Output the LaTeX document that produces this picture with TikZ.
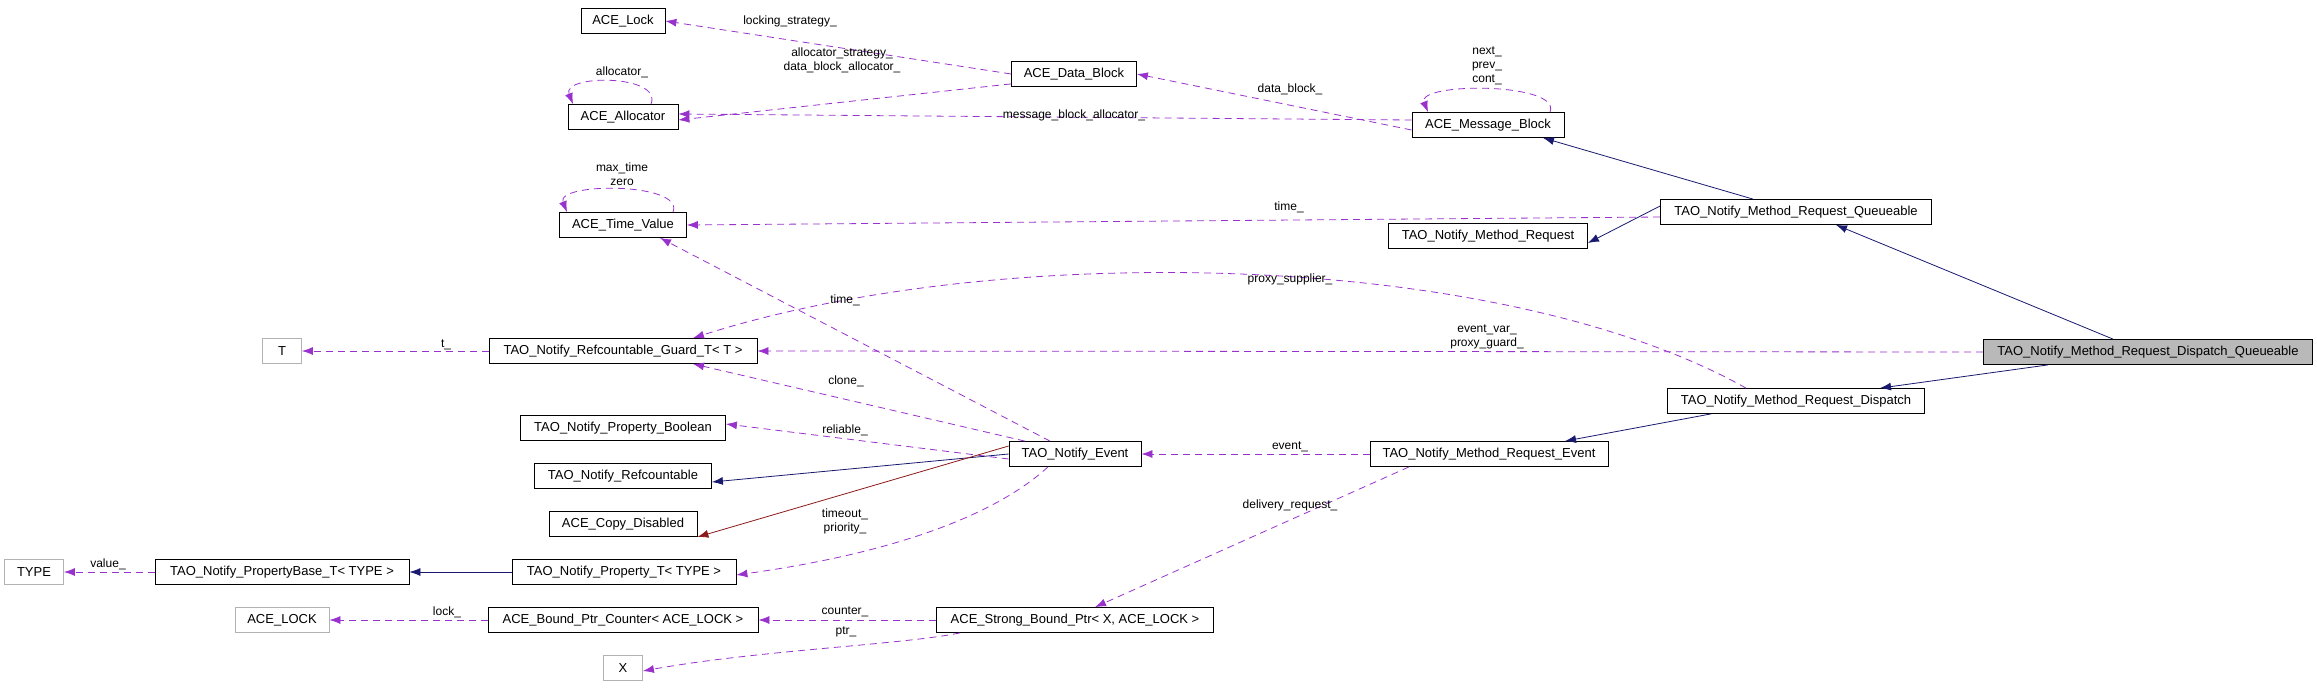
\documentclass[tikz,border=0pt]{standalone}
\usepackage{fontspec}
\setmainfont{Liberation Sans}
\usetikzlibrary{arrows.meta}
\begin{document}
\begin{tikzpicture}[x=1pt,y=-1pt,
  font=\fontsize{13}{15}\selectfont,
  cls/.style={draw=black,line width=0.8pt,inner sep=0pt,minimum height=25pt,fill=white},
  ext/.style={cls,draw=gray!60},
  usage/.style={draw={rgb,255:red,153;green,50;blue,204},line width=0.8pt,dash pattern=on 7pt off 5pt,-{Latex[length=11pt,width=8pt]}},
  inh/.style={draw={rgb,255:red,25;green,25;blue,112},line width=0.8pt,-{Latex[length=11pt,width=8pt]}},
  priv/.style={draw={rgb,255:red,139;green,26;blue,26},line width=0.8pt,-{Latex[length=11pt,width=8pt]}},
  lbl/.style={inner sep=0pt,align=center,font=\fontsize{12}{14}\selectfont}]
\useasboundingbox (0,0) rectangle (2317,696);
\fill[white] (0,0) rectangle (2317,696);
% nodes
\node[cls,minimum width=84pt] (lock) at (623,21) {ACE\_Lock};
\node[cls,minimum width=110pt] (alloc) at (623,117) {ACE\_Allocator};
\node[cls,minimum width=127pt] (tv) at (623,225) {ACE\_Time\_Value};
\node[ext,minimum width=39pt] (T) at (282,351) {T};
\node[cls,minimum width=268pt] (guard) at (623,351) {TAO\_Notify\_Refcountable\_Guard\_T< T >};
\node[cls,minimum width=205pt] (pb) at (623,428) {TAO\_Notify\_Property\_Boolean};
\node[cls,minimum width=177pt] (rc) at (623,476) {TAO\_Notify\_Refcountable};
\node[cls,minimum width=148pt] (cd) at (623,524) {ACE\_Copy\_Disabled};
\node[ext,minimum width=59pt] (TYPE) at (34,572) {TYPE};
\node[cls,minimum width=254pt] (pbase) at (282,572) {TAO\_Notify\_PropertyBase\_T< TYPE >};
\node[cls,minimum width=224pt] (pt) at (624,572) {TAO\_Notify\_Property\_T< TYPE >};
\node[ext,minimum width=94pt] (LOCK) at (282,620) {ACE\_LOCK};
\node[cls,minimum width=270pt] (bpc) at (623,620) {ACE\_Bound\_Ptr\_Counter< ACE\_LOCK >};
\node[ext,minimum width=39pt] (X) at (623,668) {X};
\node[cls,minimum width=125pt] (db) at (1074,74) {ACE\_Data\_Block};
\node[cls,minimum width=152pt] (mb) at (1488,125) {ACE\_Message\_Block};
\node[cls,minimum width=199pt] (mr) at (1488,236) {TAO\_Notify\_Method\_Request};
\node[cls,minimum width=132pt] (ev) at (1075,454) {TAO\_Notify\_Event};
\node[cls,minimum width=238pt] (mre) at (1489,454) {TAO\_Notify\_Method\_Request\_Event};
\node[cls,minimum width=277pt] (sbp) at (1075,620) {ACE\_Strong\_Bound\_Ptr< X, ACE\_LOCK >};
\node[cls,minimum width=271pt] (mrq) at (1796,212) {TAO\_Notify\_Method\_Request\_Queueable};
\node[cls,minimum width=329pt,fill=gray!55] (mrdq) at (2148,352) {TAO\_Notify\_Method\_Request\_Dispatch\_Queueable};
\node[cls,minimum width=257pt] (mrd) at (1796,401) {TAO\_Notify\_Method\_Request\_Dispatch};
% usage edges
\draw[usage] (db.west) -- (lock.east);
\draw[usage] ([yshift=3]db.south west) -- ([yshift=-3]alloc.east);
\draw[usage] ([yshift=5]mb.west) -- ([yshift=3]alloc.east);
\draw[usage] ([yshift=-5]mb.west) -- (db.east);
\draw[usage] ([xshift=62]mb.north) .. controls +(12,-30) and +(-12,-30) .. ([xshift=-60]mb.north);
\draw[usage] ([xshift=28]alloc.north) .. controls +(12,-30) and +(-12,-30) .. ([xshift=-50]alloc.north);
\draw[usage] ([xshift=50]tv.north) .. controls +(12,-30) and +(-12,-30) .. ([xshift=-56]tv.north);
\draw[usage] ([yshift=-5]mrq.west) -- (tv.east);
\draw[usage] ([xshift=-25]ev.north) -- ([xshift=37]tv.south);
\draw[usage] ([xshift=-50]mrd.north) .. controls (1500,250) and (1000,240) .. ([xshift=70]guard.north);
\draw[usage] (mrdq.west) -- (guard.east);
\draw[usage] (guard.west) -- (T.east);
\draw[usage] ([xshift=-50]ev.north) -- ([xshift=70]guard.south);
\draw[usage] ([yshift=-5]ev.west) -- ([yshift=4]pb.east);
\draw[usage] ([xshift=-27]ev.south) .. controls (990,520) and (880,555) .. ([yshift=-3]pt.east);
\draw[usage] (mre.west) -- (ev.east);
\draw[usage] ([xshift=-80]mre.south) -- ([xshift=20]sbp.north);
\draw[usage] (sbp.west) -- (bpc.east);
\draw[usage] ([xshift=-115]sbp.south) .. controls (900,645) and (760,650) .. ([yshift=-3]X.east);
\draw[usage] (bpc.west) -- (LOCK.east);
\draw[usage] (pbase.west) -- (TYPE.east);
% inheritance
\draw[inh] ([xshift=-43]mrq.north) -- ([xshift=55]mb.south);
\draw[inh] ([yshift=6]mrq.west) -- ([yshift=-7]mr.east);
\draw[inh] ([xshift=-35]mrdq.north) -- ([xshift=40]mrq.south);
\draw[inh] ([xshift=-100]mrdq.south) -- ([xshift=84]mrd.north);
\draw[inh] ([xshift=-85]mrd.south) -- ([xshift=76]mre.north);
\draw[inh] (ev.west) -- ([yshift=-6]rc.east);
\draw[priv] ([yshift=8]ev.west) -- ([yshift=-13]cd.east);
\draw[inh] (pt.west) -- (pbase.east);
% labels
\node[lbl] (l1) at (790,21) {locking\_strategy\_};
\node[lbl] (l2) at (842,60) {allocator\_strategy\_\\data\_block\_allocator\_};
\node[lbl] (l3) at (1074,115) {message\_block\_allocator\_};
\node[lbl] (l4) at (1290,89) {data\_block\_};
\node[lbl] (l5) at (1487,66) {next\_\\prev\_\\cont\_};
\node[lbl] (l6) at (622,72) {allocator\_};
\node[lbl] (l7) at (622,174) {max\_time\\zero};
\node[lbl] (l8) at (1289,207) {time\_};
\node[lbl] (l9) at (845,300) {time\_};
\node[lbl] (l10) at (1290,279) {proxy\_supplier\_};
\node[lbl] (l11) at (1487,337) {event\_var\_\\proxy\_guard\_};
\node[lbl] (l12) at (446,345) {t\_};
\node[lbl] (l13) at (846,381) {clone\_};
\node[lbl] (l14) at (845,430) {reliable\_};
\node[lbl] (l15) at (845,521) {timeout\_\\priority\_};
\node[lbl] (l16) at (1290,447) {event\_};
\node[lbl] (l17) at (1290,505) {delivery\_request\_};
\node[lbl] (l18) at (845,612) {counter\_};
\node[lbl] (l19) at (846,632) {ptr\_};
\node[lbl] (l20) at (447,612) {lock\_};
\node[lbl] (l21) at (108,564) {value\_};
\end{tikzpicture}
\end{document}
